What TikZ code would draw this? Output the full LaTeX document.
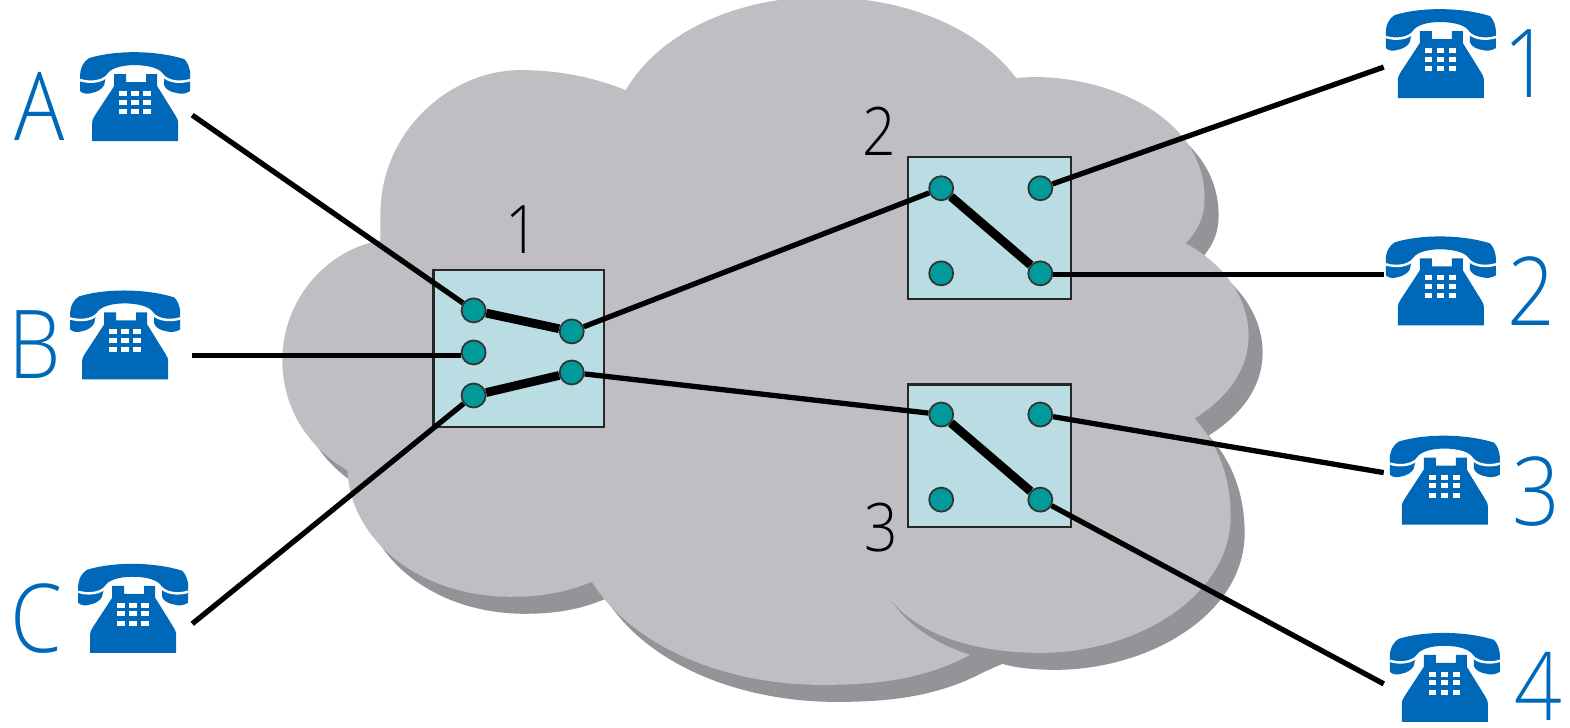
\documentclass[tikz,border=0pt]{standalone}
\usepackage{fontspec}
\setmainfont{Open Sans Light}[FakeStretch=0.88]
\usetikzlibrary{calc}
\definecolor{cloudgray}{HTML}{BEBEC3}
\definecolor{shadowgray}{HTML}{939398}
\definecolor{boxblue}{HTML}{B9DDE2}
\definecolor{dotteal}{HTML}{009A9A}
\definecolor{phoneblue}{HTML}{0068B9}
\newcommand{\cloudupper}{(625,90)
    .. controls (660,30) and (740,-3) .. (820,-3)
    .. controls (900,-3) and (975,25) .. (1015,78)
    .. controls (1090,70) and (1205,110) .. (1203,200)
    .. controls (1203,215) and (1197,230) .. (1184,243)
    .. controls (1225,265) and (1247,300) .. (1247,335)
    .. controls (1247,370) and (1225,398) .. (1193,418)
    .. controls (1218,445) and (1230,480) .. (1229,520)
    .. controls (1225,600) and (1130,652) .. (1040,652)}
\newcommand{\cloudlower}{(969,654)
    .. controls (920,680) and (870,684) .. (821,684)
    .. controls (730,684) and (635,650) .. (591,581)
    .. controls (565,592) and (540,596) .. (510,596)
    .. controls (420,596) and (350,540) .. (347,470)
    .. controls (305,445) and (282,405) .. (282,360)
    .. controls (282,300) and (325,250) .. (380,240)
    .. controls (380,235) and (380,225) .. (380,210)
    .. controls (382,130) and (450,70) .. (520,70)
    .. controls (560,70) and (595,78) .. (625,90) -- cycle}
\tikzset{
    switchbox/.style={draw=black!85, line width=0.6pt, fill=boxblue, inner sep=0pt},
    portdot/.style={circle, draw=black!80, line width=0.5pt, fill=dotteal,
                    minimum size=0.24cm, inner sep=0pt},
    wire/.style={line width=1.5pt},
    crosslink/.style={line width=2.5pt},
    sidelabel/.style={text=phoneblue, font=\fontsize{27}{27}\selectfont, inner sep=0pt, anchor=base},
    switchlabel/.style={text=black, font=\fontsize{19}{19}\selectfont, inner sep=0pt, anchor=base},
    phone/.pic={
        \fill[phoneblue] (0,39) -- (0,24) .. controls (0,15) and (4,9) .. (9,6)
            .. controls (35,-2) and (75,-2) .. (104,7)
            .. controls (107,10) and (110,15) .. (110,24) -- (110,39)
            .. controls (105,42) and (100,42) .. (97,41)
            .. controls (90,40) and (85,37) .. (84,33) -- (84,24)
            .. controls (82,17) and (70,13) .. (54,13)
            .. controls (40,13) and (28,17) .. (26,24) -- (24,33)
            .. controls (22,37) and (17,40) .. (11,41)
            .. controls (8,42) and (3,42) .. (0,39) -- cycle;
        \draw[white, line width=0.7pt] (0,28) .. controls (10,31) and (22,30) .. (28,23);
        \draw[white, line width=0.7pt] (110,28) .. controls (100,31) and (88,30) .. (82,23);
        \fill[phoneblue] (34,22) -- (46,22) -- (46,30) -- (66,30) -- (66,22) -- (77,22)
            -- (77,34) -- (95,63) .. controls (97,66) and (98,68) .. (98,72) -- (98,89)
            -- (12,89) -- (12,72) .. controls (12,68) and (13,66) .. (15,63) -- (34,34) -- cycle;
        \foreach \kx in {39, 51, 63}
            \foreach \ky in {39, 47.5, 57}
                \fill[white] (\kx,\ky) rectangle ++(7.5,5);
    },
}
\begin{document}
\begin{tikzpicture}[x=0.01cm, y=-0.01cm]
    \useasboundingbox (0,0) rectangle (1568,727);
    \clip (0,0) rectangle (1568,727);

    % cloud and its shadow
    \fill[shadowgray, shift={(14,17)}] \cloudupper
        .. controls (1020,652) and (1000,650) .. (987,646) -- \cloudlower;
    \fill[cloudgray] \cloudupper
        .. controls (970,652) and (912,632) .. (887,595)
        .. controls (905,625) and (935,643) .. \cloudlower;

    % switches
    \node[switchbox, minimum width=1.70cm, minimum height=1.56cm] (sw1) at (518,348) {};
    \node[switchbox, minimum width=1.63cm, minimum height=1.42cm] (sw2) at (988.5,228) {};
    \node[switchbox, minimum width=1.63cm, minimum height=1.42cm] (sw3) at (988.5,455) {};

    % free ends at the phones
    \coordinate (endA) at (192,115);
    \coordinate (endB) at (192,355);
    \coordinate (endC) at (192,623);
    \coordinate (end1) at (1382,67);
    \coordinate (end2) at (1382,274);
    \coordinate (end3) at (1382,472);
    \coordinate (end4) at (1382,683);

    % ports
    \node[portdot] (a1) at (473,310) {};
    \node[portdot] (b1) at (473,352) {};
    \node[portdot] (c1) at (473,395) {};
    \node[portdot] (x1) at (571,331) {};
    \node[portdot] (y1) at (571,372) {};
    \node[portdot] (a2) at (940,188) {};
    \node[portdot] (b2) at (940,273) {};
    \node[portdot] (x2) at (1039,188) {};
    \node[portdot] (y2) at (1039,273) {};
    \node[portdot] (a3) at (940,414) {};
    \node[portdot] (b3) at (940,499) {};
    \node[portdot] (x3) at (1039,414) {};
    \node[portdot] (y3) at (1039,499) {};

    % lines
    \draw[wire] (endA) -- (a1);
    \draw[wire] (endB) -- (endB -| b1.west);
    \draw[wire] (endC) -- (c1);
    \draw[wire] (x1) -- (a2);
    \draw[wire] (y1) -- (a3);
    \draw[wire] (x2) -- (end1);
    \draw[wire] (y2.east |- end2) -- (end2);
    \draw[wire] (x3) -- (end3);
    \draw[wire] (y3) -- (end4);

    % connections through the switches
    \draw[crosslink] (a1) -- (x1);
    \draw[crosslink] (c1) -- (y1);
    \draw[crosslink] (a2) -- (y2);
    \draw[crosslink] (a3) -- (y3);

    % phones
    \foreach \px/\py in {80/52, 70/290, 78/563, 1384/9, 1384/236, 1388/435, 1388/632}
        \pic at (\px,\py) {phone};

    % labels
    \node[sidelabel] (labA) at (40,140) {A};
    \node[sidelabel] (labB) at (35,378) {B};
    \node[sidelabel] (labC) at (36,652) {C};
    \node[sidelabel] (lab1) at (1525,97) {1};
    \node[sidelabel] (lab2) at (1529,325) {2};
    \node[sidelabel] (lab3) at (1534,525) {3};
    \node[sidelabel] (lab4) at (1536,720) {4};
    \node[switchlabel] (name1) at (522,253) {1};
    \node[switchlabel] (name2) at (878,155) {2};
    \node[switchlabel] (name3) at (880,551) {3};
\end{tikzpicture}
\end{document}
